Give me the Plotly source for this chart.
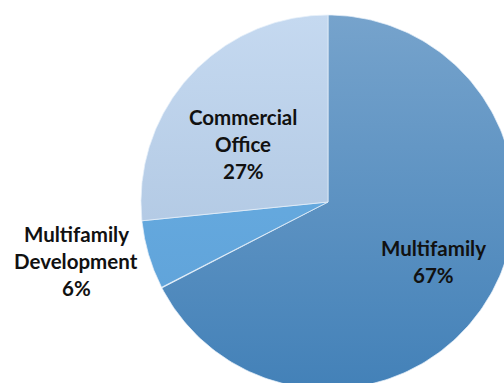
import numpy as np
import plotly.graph_objects as go

# ---- data ----
categories = ["Multifamily", "Multifamily Development", "Commercial Office"]
label_lines = [["Multifamily"], ["Multifamily", "Development"], ["Commercial", "Office"]]
values = [67.4, 6.0, 26.6]
top_colors = ["#76a3cc", "#6db2e6", "#c5d9f0"]
bottom_colors = ["#4381b8", "#5c9fd6", "#a6bfdc"]

# ---- layout constants (pixels) ----
W, H = 504, 383
CX, CY, R = 328, 202, 187
FONT = "Lato"
FS = 20.5
LINE = 27

total = sum(values)
fracs = np.array(values) / total
cum = np.concatenate([[0], np.cumsum(fracs)])

fig = go.Figure()
for i, name in enumerate(categories):
    t = np.linspace(cum[i], cum[i + 1], 200)
    ang = np.pi / 2 - 2 * np.pi * t
    xs = np.concatenate([[0], np.cos(ang), [0]])
    ys = np.concatenate([[0], np.sin(ang), [0]])
    fig.add_trace(go.Scatter(
        x=xs, y=ys, mode="lines", fill="toself",
        line=dict(color="rgba(230,240,250,0.9)", width=0.8),
        fillgradient=dict(type="vertical",
                          colorscale=[[0, bottom_colors[i]], [1, top_colors[i]]],
                          start=-1, stop=1),
        hoverinfo="skip", showlegend=False, name=name,
    ))

# label positions (pixel centres of label blocks)
label_pos = [(433, 261), (76, 261), (243, 144)]
for i, name in enumerate(categories):
    lines = label_lines[i] + [f"{round(values[i])}%"]
    px, py = label_pos[i]
    n = len(lines)
    for k, txt in enumerate(lines):
        yy = py + (k - (n - 1) / 2) * LINE
        fig.add_annotation(
            x=(px - CX) / R, y=(CY - yy) / R, text=f"<b>{txt}</b>",
            showarrow=False, xanchor="center", yanchor="middle",
            font=dict(family=FONT, size=FS, color="#111111"),
        )

fig.update_layout(
    width=W, height=H,
    margin=dict(l=0, r=0, t=0, b=0),
    paper_bgcolor="white", plot_bgcolor="white",
    xaxis=dict(range=[-CX / R, (W - CX) / R], visible=False, fixedrange=True),
    yaxis=dict(range=[-(H - CY) / R, CY / R], visible=False, fixedrange=True),
    showlegend=False,
)
fig.write_html("out.html", config={"displayModeBar": False})
